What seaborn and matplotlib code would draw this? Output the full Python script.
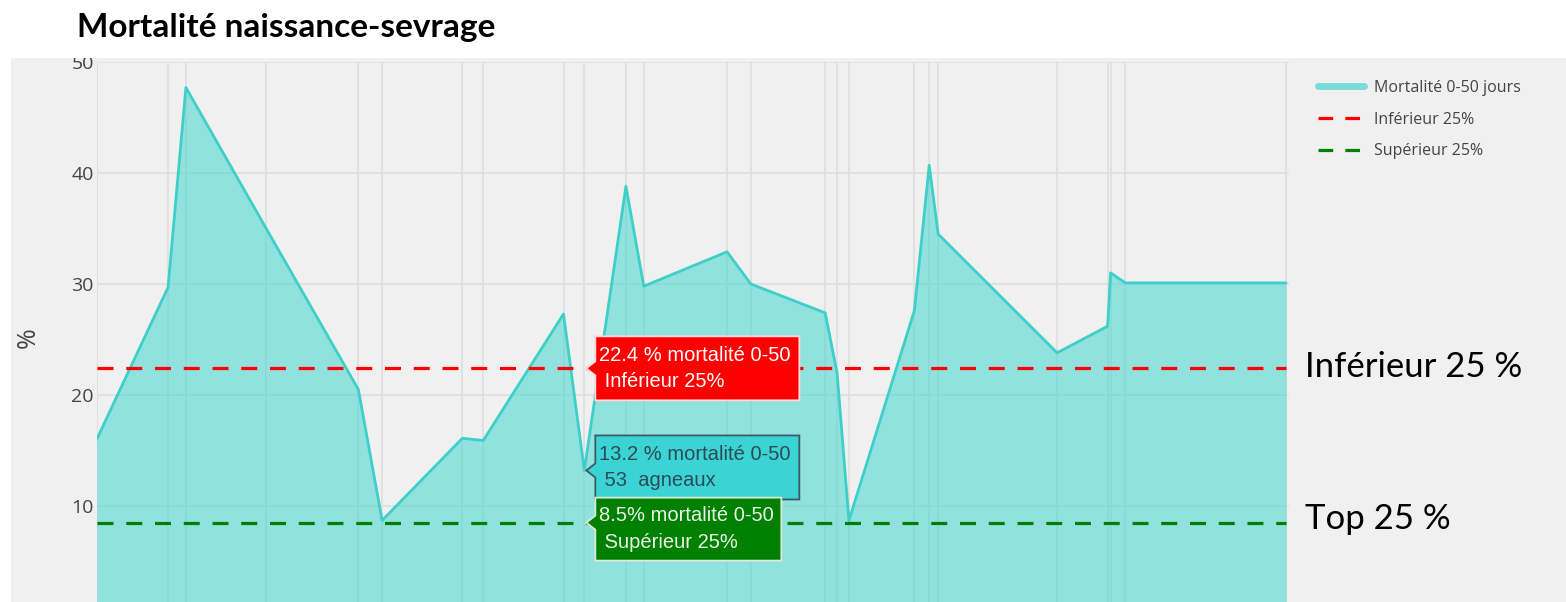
import matplotlib.pyplot as plt
import seaborn as sns
from matplotlib.lines import Line2D
from matplotlib.patches import Rectangle, Polygon
from matplotlib.transforms import Affine2D, ScaledTranslation

# jours depuis le premier enregistrement (l'axe des x est coupé sur la capture)
jours = [0, 24, 30, 57, 88, 96, 123, 130, 157, 164, 178, 184, 212, 220,
         245, 249, 253, 275, 280, 283, 323, 340, 341, 346, 400]
mortalite = [16.0, 29.7, 47.7, 35.0, 20.5, 8.7, 16.1, 15.9, 27.3, 13.2, 38.8, 29.8, 32.9, 30.0,
             27.4, 22.0, 8.7, 27.6, 40.7, 34.5, 23.8, 26.2, 31.0, 30.1, 30.1]
inferieur_25 = 22.4
superieur_25 = 8.5
jour_sel = 164
agneaux_sel = 53
yticks = [10, 20, 30, 40, 50]

W, H = 1566, 602
sns.set_theme(style="white")
plt.rcParams["font.family"] = ["Open Sans", "DejaVu Sans"]
fig = plt.figure(figsize=(W / 100, H / 100), dpi=100, facecolor="white")

# fond gris de la capture + bande blanche du haut (coupe le "50")
fig.patches.append(Rectangle((11 / W, 0), 1 - 11 / W, 1 - 58 / H, transform=fig.transFigure,
                             fc="#f0f0f0", ec="none", zorder=-1))
fig.patches.append(Rectangle((0, 1 - 58 / H), 1, 58 / H, transform=fig.transFigure,
                             fc="white", ec="none", zorder=1))

ax = fig.add_axes([96.7 / W, 0, (1289 - 96.7) / W, (602 - 62) / H])
ax.set_facecolor("#f0f0f0")
for s in ax.spines.values():
    s.set_visible(False)

ax.set_axisbelow(True)
ax.grid(True, color="#e0e0e0", lw=1.3)
ax.fill_between(jours, 0, mortalite, color="#34d4d0", alpha=0.5, lw=0, zorder=2)
sns.lineplot(x=jours, y=mortalite, color="#3ecfc8", lw=2.0, ax=ax, zorder=3)
ax.hlines(inferieur_25, jours[0], jours[-1], colors="#ff0000", lw=2.3,
          linestyles=(0, (5, 4)), zorder=4)
ax.hlines(superieur_25, jours[0], jours[-1], colors="#008000", lw=2.3,
          linestyles=(0, (5, 4)), zorder=4)

ax.set_xlim(0, 401)
ax.set_ylim(1.35, 50)
ax.set_xticks(jours)
ax.set_xticklabels([])
ax.set_yticks(yticks)
ax.tick_params(axis="both", length=0)
ax.tick_params(axis="y", labelsize=14, labelcolor="#444444", pad=2)
ax.set_ylabel("%", fontsize=18, color="#444444")
ax.yaxis.set_label_coords(-0.047, 0.49)


def bulle(x, y, texte, fc, ec, tc, w, haut, bas):
    ancre = ScaledTranslation(x, y, ax.transData)
    verts = [(2, 0), (11, 7), (11, haut), (11 + w, haut), (11 + w, -bas), (11, -bas), (11, -7)]
    ax.add_patch(Polygon(verts, closed=True, fc=fc, ec=ec, lw=1.3,
                         transform=Affine2D() + ancre, zorder=6, clip_on=False))
    ax.text(0, 0, texte, transform=Affine2D().translate(15, (haut - bas) / 2) + ancre,
            ha="left", va="center", color=tc, fontsize=14.5, family="Liberation Sans",
            linespacing=1.5, zorder=7, clip_on=False)


val_sel = mortalite[jours.index(jour_sel)]
bulle(jour_sel, inferieur_25, f"{inferieur_25} % mortalité 0-50\n Inférieur 25%",
      "#ff0000", "#ffd6d6", "white", 204, 32, 32)
bulle(jour_sel, val_sel, f"{val_sel} % mortalité 0-50\n {agneaux_sel}  agneaux",
      "#3ad4d4", "#3d5a66", "#2e4a57", 204, 35, 29)
bulle(jour_sel, superieur_25, f"{superieur_25}% mortalité 0-50\n Supérieur 25%",
      "#008000", "#d8ecd8", "#e8f5e8", 186, 25, 38)

handles = [Line2D([], [], color="#7adcd8", lw=5),
           Line2D([], [], color="#ff0000", lw=2.3, ls=(0, (4.6, 3.8))),
           Line2D([], [], color="#008000", lw=2.3, ls=(0, (4.6, 3.8)))]
labels = ["Mortalité 0-50 jours", "Inférieur 25%", "Supérieur 25%"]
leg = fig.legend(handles, labels, loc="upper left", bbox_to_anchor=(1318 / W, 1 - 80 / H),
                 frameon=False, prop={"family": "Open Sans", "size": 11.5},
                 handlelength=2.9, handletextpad=0.6, labelspacing=0.98,
                 borderpad=0, borderaxespad=0)
for t in leg.get_texts():
    t.set_color("#444444")

fig.text(77 / W, 1 - 28 / H, "Mortalité naissance-sevrage", family="Lato", weight="bold",
         fontsize=24, va="center", ha="left", color="black", zorder=3)
fig.text(1305 / W, 1 - 367 / H, "Inférieur 25 %", family="Lato", fontsize=25,
         va="center", ha="left", color="black")
fig.text(1305 / W, 1 - 519 / H, "Top 25 %", family="Lato", fontsize=25,
         va="center", ha="left", color="black")

fig.savefig("out.png", dpi=100, facecolor="white")
